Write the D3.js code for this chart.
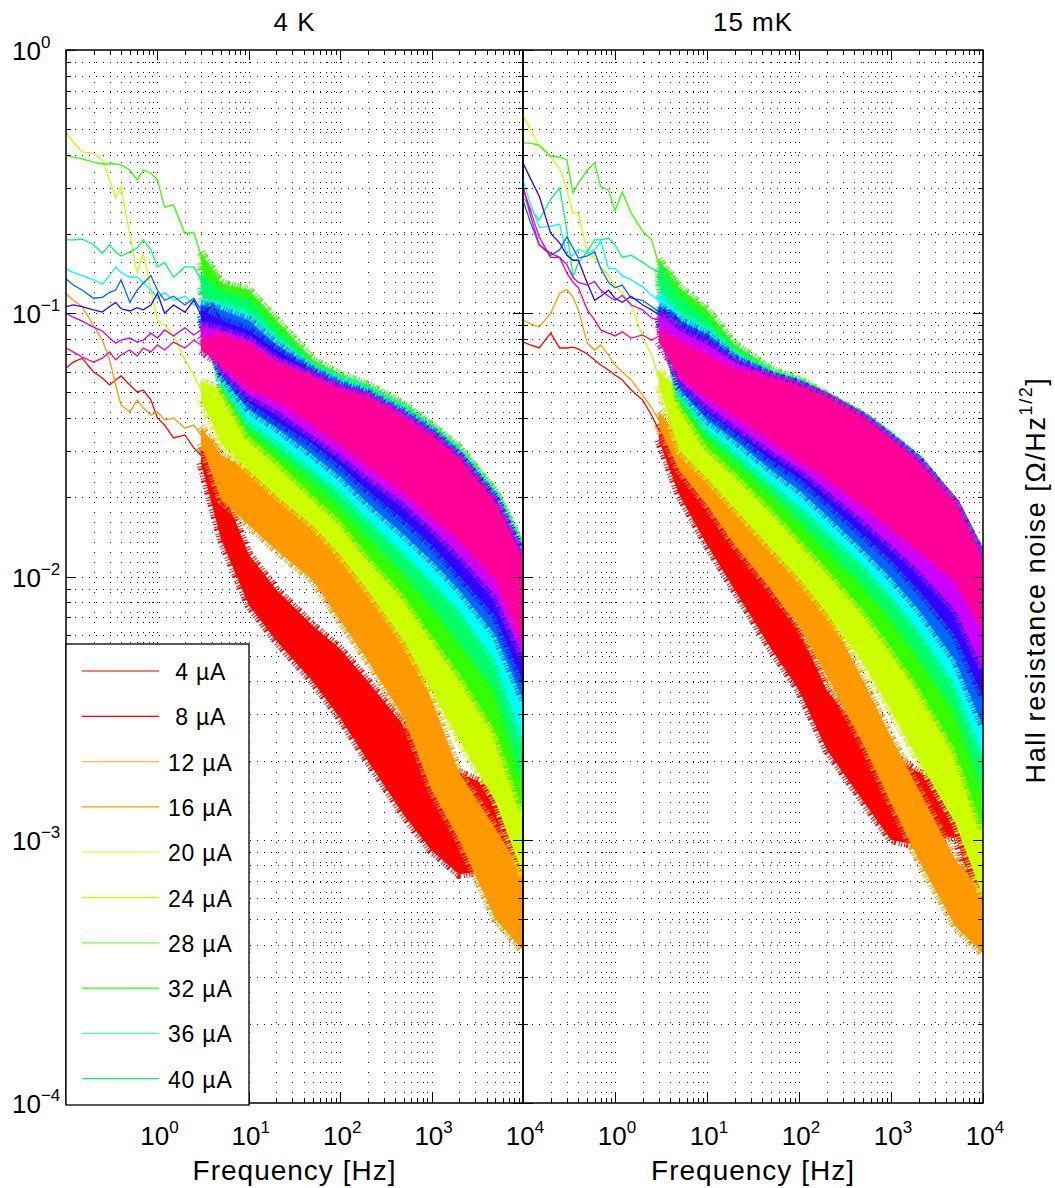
<!DOCTYPE html>
<html>
<head>
<meta charset="utf-8">
<script src="https://cdn.jsdelivr.net/npm/d3@7"></script>
<style>
  body { margin: 0; background: #fff; }
  svg { display: block; }
  svg text { font-family: 'Liberation Sans', Arimo, Arial, Helvetica, sans-serif; fill: #000; }
</style>
</head>
<body>
<svg id="chart" width="1055" height="1188"></svg>
<script>
// frequencies (Hz) where the low-frequency traces were read
const freqLow = [0.1, 0.12, 0.15, 0.2, 0.25, 0.3, 0.35, 0.4, 0.5, 0.6, 0.7, 0.85, 1, 1.2, 1.5, 2, 2.5, 3, 4, 5]
// frequencies (Hz) where the upper / lower edges of the noisy bands were read
const freqBand = [3, 5, 10, 20, 50, 100, 200, 500, 1000, 2000, 5000, 10000]

const colors = ['#ff0000', '#ff9900', '#ccff00', '#33ff00', '#00ff66', '#00ffff', '#0066ff', '#3300ff', '#cc00ff', '#ff0099']
const legendLabels = ['4 µA', '8 µA', '12 µA', '16 µA', '20 µA', '24 µA', '28 µA', '32 µA', '36 µA', '40 µA']
const panelTitles = ['4 K', '15 mK']
const xTickExp = [0, 1, 2, 3, 4]
const yTickExp = [0, -1, -2, -3, -4]

// 4 K : one row per colour (red ... pink), Ohm/Hz^1/2
const low4K = [
  [0.0619, 0.0652, 0.0675, 0.0598, 0.0568, 0.0534, 0.0558, 0.0578, 0.0534, 0.0502, 0.0511, 0.0468, 0.04, 0.0376, 0.0336, 0.0345, 0.0308, 0.0289, 0.0254, 0.0213],
  [0.119, 0.112, 0.106, 0.09, 0.079, 0.0665, 0.0534, 0.0448, 0.0422, 0.0468, 0.0437, 0.041, 0.0422, 0.0393, 0.04, 0.0366, 0.0376, 0.0345, 0.033, 0.0297],
  [0.488, 0.447, 0.41, 0.406, 0.382, 0.321, 0.274, 0.302, 0.198, 0.142, 0.169, 0.1225, 0.0943, 0.09, 0.0827, 0.0665, 0.0583, 0.0511, 0.0448, 0.041],
  [0.399, 0.392, 0.386, 0.375, 0.369, 0.369, 0.369, 0.366, 0.35, 0.321, 0.35, 0.341, 0.321, 0.253, 0.258, 0.201, 0.203, 0.166, 0.146, 0.136],
  [0.19, 0.19, 0.191, 0.182, 0.169, 0.182, 0.171, 0.165, 0.171, 0.177, 0.19, 0.174, 0.15, 0.156, 0.137, 0.15, 0.15, 0.134, 0.128, 0.112],
  [0.147, 0.143, 0.139, 0.134, 0.129, 0.139, 0.15, 0.143, 0.137, 0.137, 0.131, 0.1225, 0.114, 0.12, 0.112, 0.116, 0.1075, 0.105, 0.1075, 0.096],
  [0.135, 0.128, 0.1225, 0.114, 0.115, 0.12, 0.1225, 0.134, 0.11, 0.1225, 0.13, 0.139, 0.1225, 0.112, 0.116, 0.1075, 0.114, 0.103, 0.11, 0.0985],
  [0.106, 0.1075, 0.106, 0.103, 0.101, 0.106, 0.11, 0.104, 0.102, 0.105, 0.103, 0.1075, 0.119, 0.1, 0.1075, 0.101, 0.112, 0.0985, 0.1075, 0.0943],
  [0.1, 0.0966, 0.0934, 0.0886, 0.0856, 0.0805, 0.077, 0.079, 0.0805, 0.0777, 0.079, 0.084, 0.0805, 0.0864, 0.082, 0.088, 0.0827, 0.0864, 0.0805, 0.085],
  [0.0738, 0.0713, 0.0682, 0.0652, 0.0675, 0.0713, 0.0665, 0.0694, 0.0725, 0.0688, 0.0738, 0.0713, 0.0758, 0.0725, 0.0777, 0.0738, 0.079, 0.0758, 0.0805, 0.0758]
]
const top4K = [
  [0.031, 0.022, 0.0121, 0.0089, 0.0065, 0.0053, 0.0040, 0.0027, 0.0020, 0.0018, 0.00155, 0.0011],
  [0.037, 0.0289, 0.0254, 0.0204, 0.0157, 0.0126, 0.0097, 0.0065, 0.0034, 0.0018, 0.0011, 0.00074],
  [0.055, 0.0511, 0.0468, 0.0393, 0.0316, 0.0254, 0.0195, 0.0138, 0.0097, 0.0068, 0.0040, 0.0024],
  [0.17, 0.13, 0.1225, 0.0943, 0.0665, 0.0583, 0.0534, 0.0448, 0.0376, 0.0308, 0.0209, 0.0128],
  [0.14, 0.12, 0.112, 0.0864, 0.0636, 0.0568, 0.052, 0.0437, 0.0366, 0.0302, 0.0206, 0.0126],
  [0.11, 0.1075, 0.0985, 0.079, 0.062, 0.0558, 0.051, 0.043, 0.036, 0.0297, 0.0202, 0.0124],
  [0.108, 0.103, 0.094, 0.076, 0.061, 0.054, 0.050, 0.042, 0.036, 0.029, 0.020, 0.0122],
  [0.103, 0.094, 0.086, 0.0725, 0.060, 0.053, 0.049, 0.041, 0.035, 0.0287, 0.0195, 0.0119],
  [0.09, 0.086, 0.079, 0.066, 0.058, 0.052, 0.0485, 0.041, 0.0345, 0.028, 0.019, 0.0117],
  [0.08, 0.083, 0.076, 0.065, 0.057, 0.051, 0.048, 0.040, 0.034, 0.028, 0.019, 0.0115]
]
const bottom4K = [
  [0.027, 0.0138, 0.0078, 0.0057, 0.0040, 0.0029, 0.0020, 0.00124, 0.00091, 0.00074, 0.00077, 0.0007],
  [0.032, 0.0195, 0.0157, 0.0126, 0.0097, 0.0068, 0.0048, 0.0029, 0.00155, 0.0010, 0.0005, 0.00038],
  [0.047, 0.032, 0.0254, 0.0204, 0.0157, 0.0121, 0.0089, 0.0057, 0.0037, 0.0024, 0.0014, 0.00074],
  [0.155, 0.052, 0.0342, 0.0277, 0.0204, 0.0164, 0.0121, 0.0085, 0.0060, 0.0043, 0.0026, 0.0013],
  [0.125, 0.054, 0.0366, 0.0302, 0.0233, 0.0187, 0.0144, 0.0104, 0.0078, 0.0057, 0.0037, 0.0017],
  [0.10, 0.056, 0.039, 0.033, 0.0258, 0.0213, 0.0167, 0.0124, 0.0097, 0.0075, 0.0048, 0.0024],
  [0.098, 0.058, 0.043, 0.0367, 0.029, 0.024, 0.019, 0.0144, 0.0115, 0.0089, 0.0060, 0.0034],
  [0.094, 0.060, 0.046, 0.039, 0.032, 0.0265, 0.0213, 0.0164, 0.0132, 0.0101, 0.0071, 0.0040],
  [0.082, 0.062, 0.049, 0.043, 0.0345, 0.029, 0.024, 0.019, 0.0153, 0.0121, 0.0085, 0.0050],
  [0.072, 0.064, 0.052, 0.047, 0.038, 0.032, 0.0265, 0.021, 0.017, 0.0138, 0.0099, 0.0057]
]

// 15 mK
const low15mK = [
  [0.0777, 0.0758, 0.0738, 0.084, 0.0738, 0.0738, 0.0744, 0.0731, 0.07, 0.0665, 0.0636, 0.0609, 0.0583, 0.0558, 0.0511, 0.0468, 0.041, 0.036, 0.0316, 0.0277],
  [0.0943, 0.0914, 0.0886, 0.1, 0.119, 0.123, 0.115, 0.103, 0.077, 0.0725, 0.0758, 0.0694, 0.0636, 0.0598, 0.0558, 0.0489, 0.0437, 0.0393, 0.036, 0.033],
  [0.566, 0.501, 0.432, 0.392, 0.356, 0.294, 0.24, 0.24, 0.169, 0.162, 0.15, 0.139, 0.128, 0.119, 0.109, 0.0805, 0.0694, 0.0568, 0.0489, 0.0429],
  [0.443, 0.443, 0.435, 0.395, 0.392, 0.382, 0.286, 0.312, 0.35, 0.372, 0.302, 0.294, 0.245, 0.289, 0.24, 0.205, 0.19, 0.153, 0.143, 0.128],
  [0.276, 0.251, 0.226, 0.271, 0.299, 0.207, 0.137, 0.156, 0.171, 0.19, 0.19, 0.193, 0.182, 0.163, 0.166, 0.156, 0.148, 0.143, 0.128, 0.112],
  [0.321, 0.262, 0.212, 0.214, 0.218, 0.166, 0.166, 0.175, 0.169, 0.174, 0.188, 0.148, 0.148, 0.139, 0.134, 0.126, 0.117, 0.112, 0.105, 0.0985],
  [0.269, 0.222, 0.182, 0.166, 0.174, 0.195, 0.177, 0.162, 0.165, 0.171, 0.148, 0.131, 0.125, 0.128, 0.114, 0.112, 0.106, 0.101, 0.103, 0.0943],
  [0.372, 0.326, 0.279, 0.201, 0.185, 0.166, 0.159, 0.159, 0.13, 0.112, 0.116, 0.1225, 0.114, 0.11, 0.116, 0.1075, 0.103, 0.0985, 0.101, 0.0943],
  [0.302, 0.236, 0.182, 0.169, 0.163, 0.153, 0.137, 0.131, 0.128, 0.132, 0.1225, 0.116, 0.112, 0.117, 0.1075, 0.103, 0.0958, 0.0943, 0.0958, 0.0902],
  [0.302, 0.247, 0.195, 0.163, 0.163, 0.142, 0.131, 0.125, 0.103, 0.0943, 0.0864, 0.084, 0.082, 0.085, 0.0805, 0.0827, 0.079, 0.082, 0.0777, 0.079]
]
const top15mK = [
  [0.038, 0.0289, 0.0195, 0.0138, 0.0089, 0.0063, 0.0037, 0.0025, 0.0021, 0.0018, 0.00155, 0.0007],
  [0.042, 0.0345, 0.0277, 0.0213, 0.015, 0.0116, 0.0075, 0.0040, 0.00245, 0.00155, 0.00084, 0.00063],
  [0.060, 0.051, 0.043, 0.033, 0.0233, 0.0179, 0.0132, 0.0085, 0.0057, 0.0040, 0.0024, 0.00119],
  [0.16, 0.125, 0.103, 0.076, 0.061, 0.0558, 0.0489, 0.041, 0.0339, 0.0277, 0.019, 0.0118],
  [0.15, 0.115, 0.094, 0.0725, 0.0598, 0.055, 0.0485, 0.0407, 0.0342, 0.028, 0.019, 0.0119],
  [0.118, 0.0985, 0.0864, 0.0694, 0.059, 0.0543, 0.048, 0.0404, 0.0336, 0.0277, 0.0189, 0.0118],
  [0.106, 0.094, 0.083, 0.0676, 0.058, 0.054, 0.048, 0.0404, 0.0336, 0.0277, 0.0189, 0.0118],
  [0.103, 0.090, 0.080, 0.0665, 0.0578, 0.054, 0.048, 0.0404, 0.0336, 0.0277, 0.0189, 0.0118],
  [0.099, 0.086, 0.076, 0.065, 0.057, 0.053, 0.048, 0.040, 0.0333, 0.0272, 0.019, 0.0117],
  [0.086, 0.078, 0.069, 0.061, 0.057, 0.053, 0.048, 0.040, 0.033, 0.027, 0.019, 0.0115]
]
const bottom15mK = [
  [0.033, 0.0204, 0.0132, 0.0089, 0.0053, 0.0037, 0.0022, 0.0014, 0.0010, 0.00095, 0.00104, 0.0005],
  [0.037, 0.0254, 0.0187, 0.0132, 0.0089, 0.0065, 0.0042, 0.0023, 0.00138, 0.00084, 0.00047, 0.00037],
  [0.053, 0.0302, 0.0237, 0.0182, 0.0128, 0.0099, 0.0073, 0.0047, 0.0031, 0.0020, 0.00116, 0.00061],
  [0.145, 0.046, 0.0312, 0.025, 0.0182, 0.014, 0.0108, 0.0075, 0.0054, 0.0038, 0.0022, 0.0011],
  [0.135, 0.048, 0.0342, 0.0277, 0.0209, 0.0164, 0.0128, 0.0093, 0.0070, 0.0050, 0.0031, 0.00155],
  [0.106, 0.050, 0.0366, 0.0302, 0.0228, 0.0187, 0.015, 0.0111, 0.0085, 0.0063, 0.0039, 0.0021],
  [0.096, 0.052, 0.0393, 0.033, 0.0254, 0.0213, 0.0171, 0.0126, 0.0099, 0.0075, 0.0048, 0.0027],
  [0.094, 0.054, 0.0422, 0.0354, 0.0277, 0.0237, 0.0192, 0.0144, 0.0116, 0.0089, 0.0060, 0.0035],
  [0.090, 0.056, 0.0448, 0.0376, 0.0302, 0.0258, 0.0213, 0.0164, 0.0132, 0.0106, 0.0075, 0.0045],
  [0.078, 0.058, 0.048, 0.041, 0.033, 0.0277, 0.0237, 0.0187, 0.0153, 0.0126, 0.0097, 0.0063]
]

const svg = d3.select('#chart')
const plotTop = 50
const plotBottom = 1103

const panels = [
  { title: panelTitles[0], left: 66, right: 523, low: low4K, top: top4K, bottom: bottom4K },
  { title: panelTitles[1], left: 523, right: 983, low: low15mK, top: top15mK, bottom: bottom15mK }
]

const y = d3.scaleLog().domain([1e-4, 1]).range([plotBottom, plotTop])
const isDecade = v => Math.abs(Math.log10(v) - Math.round(Math.log10(v))) < 1e-6

const defs = svg.append('defs')

panels.forEach((p, n) => {
  const x = d3.scaleLog().domain([0.1, 1e4]).range([p.left, p.right])
  const g = svg.append('g')

  defs.append('clipPath').attr('id', `clip${n}`)
    .append('rect')
    .attr('x', p.left).attr('y', plotTop)
    .attr('width', p.right - p.left).attr('height', plotBottom - plotTop)

  // dotted grid (major + minor)
  const grid = g.append('g')
    .attr('stroke', '#000')
    .attr('stroke-width', 1)
    .attr('shape-rendering', 'crispEdges')
  grid.selectAll('.vx')
    .data(x.ticks().filter(v => v > 0.1001 && v < 9999))
    .enter().append('line')
    .attr('stroke-dasharray', '1,9')
    .attr('x1', d => Math.round(x(d)) + 0.5).attr('x2', d => Math.round(x(d)) + 0.5)
    .attr('y1', plotTop + 2).attr('y2', plotBottom)
  grid.selectAll('.hy')
    .data(y.ticks().filter(v => v > 1.0001e-4 && v < 0.9999))
    .enter().append('line')
    .attr('stroke-dasharray', '1,6')
    .attr('x1', p.left + 2).attr('x2', p.right)
    .attr('y1', d => Math.round(y(d)) + 0.5).attr('y2', d => Math.round(y(d)) + 0.5)

  // data: band for the dense part, trace for the low-frequency part
  const data = g.append('g').attr('clip-path', `url(#clip${n})`)
  const area = d3.area().x(d => x(d.f)).y0(d => y(d.lo)).y1(d => y(d.hi))
  const line = d3.line().x(d => x(d.f)).y(d => y(d.v))

  colors.forEach((c, i) => {
    const band = freqBand.map((f, k) => ({ f, hi: p.top[i][k], lo: p.bottom[i][k] }))
    data.append('path')
      .attr('d', area(band))
      .attr('fill', c)
    // spiky fringe along the upper and lower band edges
    const edges = [
      freqBand.map((f, k) => ({ f, v: p.top[i][k] })),
      freqBand.map((f, k) => ({ f, v: p.bottom[i][k] }))
    ]
    edges.forEach(e => {
      data.append('path')
        .attr('d', line(e))
        .attr('fill', 'none')
        .attr('stroke', c)
        .attr('stroke-width', 9)
        .attr('stroke-dasharray', '1,2,1,1,2,3,1,1.5')
    })
    const trace = freqLow.map((f, k) => ({ f, v: p.low[i][k] }))
    data.append('path')
      .attr('d', line(trace))
      .attr('fill', 'none')
      .attr('stroke', c)
      .attr('stroke-width', 1.3)
  })

  // ticks on all four sides, pointing inwards
  const xMajor = x.ticks().filter(isDecade)
  const xMinor = x.ticks().filter(v => !isDecade(v))
  const yMajor = y.ticks().filter(isDecade)
  const yMinor = y.ticks().filter(v => !isDecade(v))

  const tickAxis = (axis, values, size) => sel => {
    sel.call(axis.tickValues(values).tickSize(-size).tickFormat(''))
    sel.select('.domain').remove()
  }
  const axes = g.append('g').attr('shape-rendering', 'crispEdges')
  axes.append('g').attr('transform', `translate(0,${plotBottom})`).call(tickAxis(d3.axisBottom(x), xMajor, 10))
  axes.append('g').attr('transform', `translate(0,${plotBottom})`).call(tickAxis(d3.axisBottom(x), xMinor, 5))
  axes.append('g').attr('transform', `translate(0,${plotTop})`).call(tickAxis(d3.axisTop(x), xMajor, 10))
  axes.append('g').attr('transform', `translate(0,${plotTop})`).call(tickAxis(d3.axisTop(x), xMinor, 5))
  axes.append('g').attr('transform', `translate(${p.left},0)`).call(tickAxis(d3.axisLeft(y), yMajor, 10))
  axes.append('g').attr('transform', `translate(${p.left},0)`).call(tickAxis(d3.axisLeft(y), yMinor, 5))
  axes.append('g').attr('transform', `translate(${p.right},0)`).call(tickAxis(d3.axisRight(y), yMajor, 10))
  axes.append('g').attr('transform', `translate(${p.right},0)`).call(tickAxis(d3.axisRight(y), yMinor, 5))
  axes.selectAll('.tick line').attr('stroke', '#000')

  g.append('rect')
    .attr('x', p.left).attr('y', plotTop)
    .attr('width', p.right - p.left).attr('height', plotBottom - plotTop)
    .attr('fill', 'none').attr('stroke', '#000').attr('stroke-width', 1.5)

  // x tick labels 10^n
  const xl = g.selectAll('.xlab')
    .data(xTickExp)
    .enter().append('text')
    .attr('x', d => x(Math.pow(10, d)) + 2)
    .attr('y', 1145)
    .attr('text-anchor', 'middle')
    .style('font-size', '26px')
  xl.append('tspan').text('10')
  xl.append('tspan').attr('dy', -12).style('font-size', '17px').text(d => d)

  g.append('text')
    .attr('x', (p.left + p.right) / 2)
    .attr('y', 1180)
    .attr('text-anchor', 'middle')
    .style('font-size', '28px')
    .style('letter-spacing', '1px')
    .text('Frequency [Hz]')

  g.append('text')
    .attr('x', (p.left + p.right) / 2)
    .attr('y', 31)
    .attr('text-anchor', 'middle')
    .style('font-size', '26px')
    .style('letter-spacing', '1px')
    .text(p.title)
})

// y tick labels on the left panel only
const yl = svg.selectAll('.ylab')
  .data(yTickExp)
  .enter().append('text')
  .attr('x', 12)
  .attr('y', d => y(Math.pow(10, d)) + 10)
  .style('font-size', '26px')
yl.append('tspan').text('10')
yl.append('tspan').attr('dy', -12).style('font-size', '17px').text(d => (d < 0 ? '\u2212' + (-d) : d))

// y axis title on the right
const yt = svg.append('text')
  .attr('transform', 'translate(1045,580) rotate(-90)')
  .attr('text-anchor', 'middle')
  .style('font-size', '27px')
  .style('letter-spacing', '1.6px')
yt.append('tspan').text('Hall resistance noise [Ω/Hz')
yt.append('tspan').attr('dy', -13).style('font-size', '18px').text('1/2')
yt.append('tspan').attr('dy', 13).text(']')

// legend
const legend = svg.append('g')
legend.append('rect')
  .attr('x', 66).attr('y', 644)
  .attr('width', 183).attr('height', 461)
  .attr('fill', '#fff').attr('stroke', '#000').attr('stroke-width', 1.3)
const item = legend.selectAll('.item')
  .data(legendLabels)
  .enter().append('g')
  .attr('transform', (d, i) => `translate(0,${671 + i * 45.3})`)
item.append('line')
  .attr('x1', 82).attr('x2', 159)
  .attr('stroke', (d, i) => colors[Math.floor(i / 2)])
  .attr('stroke-width', 1.3)
  .attr('stroke-opacity', (d, i) => (i % 2 === 0 ? 0.7 : 1))
item.append('text')
  .attr('x', 168).attr('y', 9)
  .style('font-size', '23px')
  .style('letter-spacing', '0.8px')
  .style('white-space', 'pre')
  .text(d => d.padStart(5, ' '))
</script>
</body>
</html>
